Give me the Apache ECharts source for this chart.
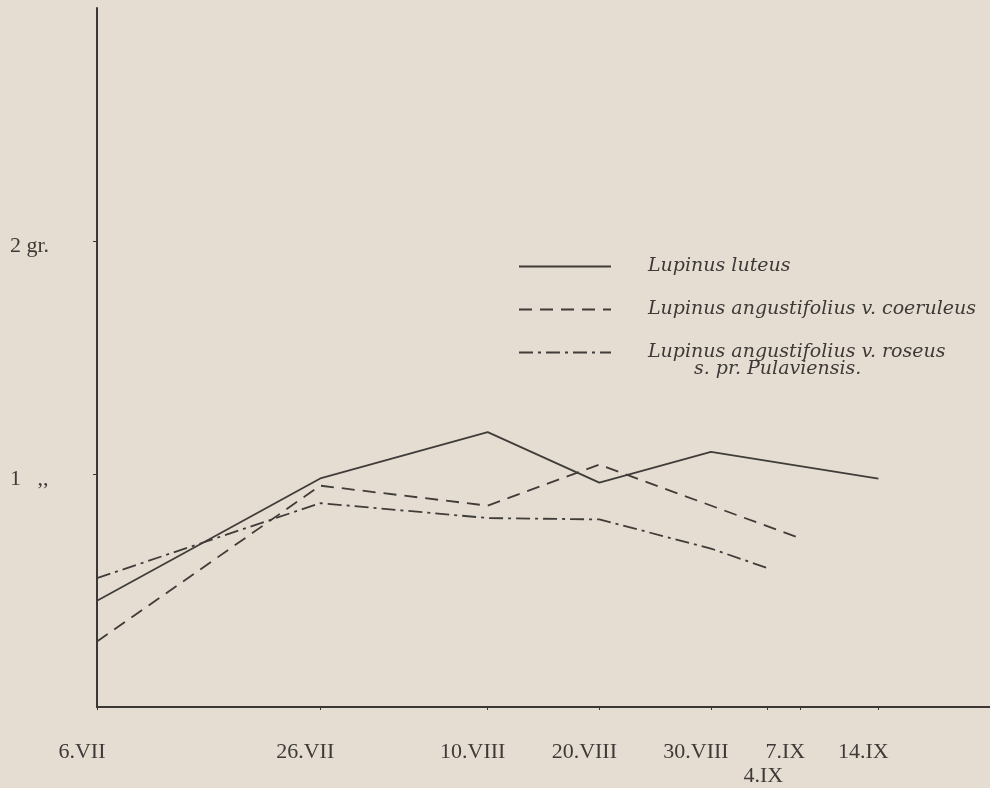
<!DOCTYPE html>
<html>
<head>
<meta charset="utf-8">
<script src="https://cdn.jsdelivr.net/npm/echarts@6/dist/echarts.min.js"></script>
<style>
html,body{margin:0;padding:0;background:#e6ddd2;}
#chart{width:990px;height:788px;}
</style>
</head>
<body>
<div id="chart"></div>
<script>
// Days counted from 6 July (6.VII)
const tickDays   = [0, 20, 35, 45, 55, 60, 63, 70];
const tickLabels = ['6.VII', '26.VII', '10.VIII', '20.VIII', '30.VIII', '4.IX', '7.IX', '14.IX'];

const yTicks      = [1, 2];
const yTickLabels = ['1   ,,', '2 gr.'];

const luteusDays   = [0, 20, 35, 45, 55, 70];
const luteusValues = [0.456, 0.981, 1.180, 0.963, 1.095, 0.980];

const coeruleusDays   = [0, 20, 35, 45, 63];
const coeruleusValues = [0.281, 0.950, 0.864, 1.040, 0.724];

const roseusDays   = [0, 20, 35, 45, 55, 60];
const roseusValues = [0.553, 0.875, 0.811, 0.805, 0.680, 0.597];

const seriesNames = [
  'Lupinus luteus',
  'Lupinus angustifolius v. coeruleus',
  'Lupinus angustifolius v. roseus'
];

function pairs(xs, ys) { return xs.map((x, i) => [x, ys[i]]); }

const ink = '#3f3c39';
const chart = echarts.init(document.getElementById('chart'));
chart.setOption({
  backgroundColor: '#e6ddd2',
  animation: false,
  grid: { left: 97, top: 8, width: 897, height: 704, containLabel: false },
  xAxis: {
    type: 'value', min: 0, max: 80,
    splitLine: { show: false },
    axisLine: { onZero: false, lineStyle: { color: '#3a3734', width: 2 } },
    axisTick: { show: true, customValues: tickDays, length: 3, lineStyle: { color: '#3a3734', width: 1 } },
    axisLabel: {
      customValues: tickDays,
      hideOverlap: false,
      margin: 33,
      fontFamily: 'Liberation Serif',
      fontSize: 22,
      lineHeight: 24,
      color: '#3d3a37',
      formatter: function (v) {
        const i = tickDays.indexOf(v);
        const t = i >= 0 ? tickLabels[i] : '';
        if (t === '4.IX') return '\n{b|' + t + '}';
        return '{a|' + t + '}';
      },
      rich: {
        a: { padding: [0, 30, 0, 0], fontFamily: 'Liberation Serif', fontSize: 22, lineHeight: 24, color: '#3d3a37' },
        b: { padding: [0, 7, 0, 0], fontFamily: 'Liberation Serif', fontSize: 22, lineHeight: 24, color: '#3d3a37' }
      }
    }
  },
  yAxis: {
    type: 'value', min: 0, max: 3, interval: 1,
    splitLine: { show: false },
    axisLine: { show: true, onZero: false, lineStyle: { color: '#3a3734', width: 2 } },
    axisTick: { show: true, customValues: yTicks, length: 4, lineStyle: { color: '#3a3734', width: 1 } },
    axisLabel: {
      customValues: yTicks,
      align: 'left',
      margin: 87,
      fontFamily: 'Liberation Serif',
      fontSize: 22,
      lineHeight: 30,
      verticalAlign: 'top',
      color: '#3d3a37',
      padding: [-10, 0, 0, 0],
      formatter: function (v) {
        const i = yTicks.indexOf(v);
        return i >= 0 ? yTickLabels[i] : '';
      }
    }
  },
  legend: {
    orient: 'vertical',
    left: 513, top: 252,
    itemWidth: 92, itemHeight: 20, itemGap: 24,
    selectedMode: false,
    data: seriesNames,
    itemStyle: { opacity: 0 },
    textStyle: {
      fontFamily: 'DejaVu Serif', fontStyle: 'italic', fontSize: 19,
      color: '#3d3a37', padding: [0, 0, 0, 32]
    }
  },
  graphic: [{
    type: 'text', left: 694, top: 360,
    style: {
      text: 's. pr. Pulaviensis.',
      font: 'italic 19px "DejaVu Serif"',
      fill: '#3d3a37'
    }
  }],
  series: [
    {
      name: seriesNames[0], type: 'line', symbol: 'none',
      data: pairs(luteusDays, luteusValues),
      lineStyle: { color: ink, width: 1.8, type: 'solid' },
      itemStyle: { color: ink }
    },
    {
      name: seriesNames[1], type: 'line', symbol: 'none',
      data: pairs(coeruleusDays, coeruleusValues),
      lineStyle: { color: ink, width: 1.8, type: [13, 8] },
      itemStyle: { color: ink }
    },
    {
      name: seriesNames[2], type: 'line', symbol: 'none',
      data: pairs(roseusDays, roseusValues),
      lineStyle: { color: ink, width: 1.8, type: [14, 5, 3, 5] },
      itemStyle: { color: ink }
    }
  ]
});
</script>
</body>
</html>
